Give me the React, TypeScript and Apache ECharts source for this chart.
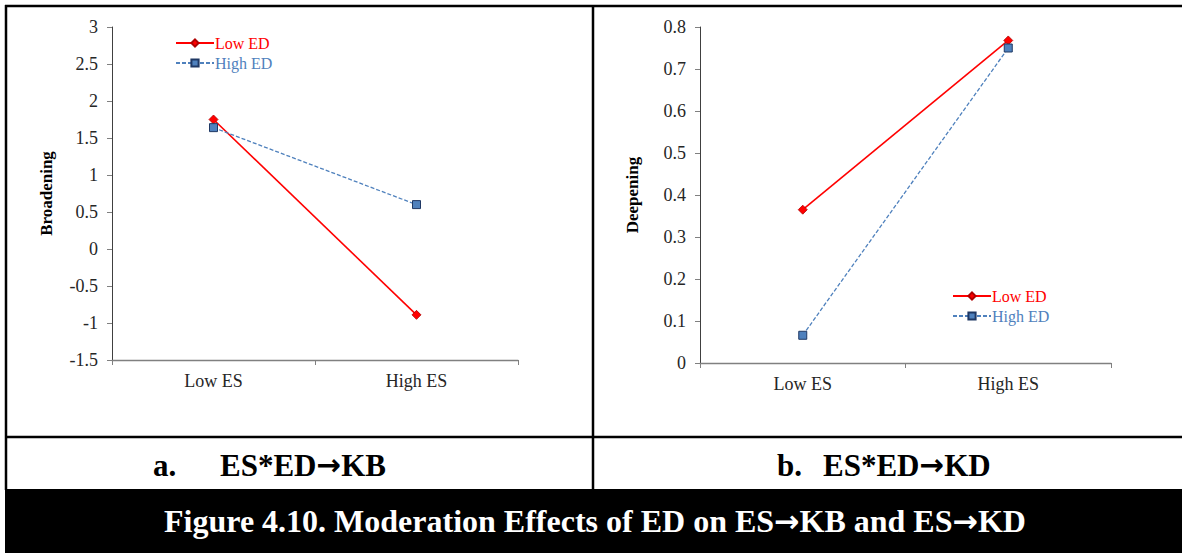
import React, { useEffect, useRef } from "react";
import * as echarts from "echarts";

const categories = ["Low ES", "High ES"];
const seriesNames = ["Low ED", "High ED"];
const broadeningLowED = [1.75, -0.89];
const broadeningHighED = [1.64, 0.6];
const deepeningLowED = [0.365, 0.768];
const deepeningHighED = [0.066, 0.75];
const captionA = ["a.", "ES*ED", "KB"];
const captionB = ["b.", "ES*ED", "KD"];
const figureTitleParts = ["Figure 4.10. Moderation Effects of ED on ES", "KB and ES", "KD"];
const ARROW = "\u2192";

const SERIF = "Liberation Serif";
const RED = "#FF0000";
const BLUE = "#4F81BD";

export default function App() {
  const ref = useRef<HTMLDivElement>(null);
  useEffect(() => {
    document.body.style.margin = "0";
    const chart = echarts.init(ref.current!, null, { renderer: "svg" });

    const yAxisCommon = (min: number, max: number, interval: number, name: string, nameGap: number) => ({
      type: "value",
      min,
      max,
      interval,
      name,
      nameLocation: "middle",
      nameGap,
      nameRotate: 90,
      nameTextStyle: { fontFamily: SERIF, fontWeight: "bold", fontSize: 17, color: "#000" },
      axisLine: { show: true, lineStyle: { color: "#404040", width: 1 } },
      axisTick: { show: true, length: 5, lineStyle: { color: "#808080" } },
      splitLine: { show: false },
      axisLabel: { fontFamily: SERIF, fontSize: 18, color: "#262626", margin: 14 },
    });
    const xAxisCommon = (gridIndex: number) => ({
      type: "category",
      gridIndex,
      data: categories,
      boundaryGap: true,
      axisLine: { show: true, onZero: false, lineStyle: { color: "#808080", width: 1.3 } },
      axisTick: { show: true, length: 5, inside: false, lineStyle: { color: "#808080" } },
      axisLabel: { fontFamily: SERIF, fontSize: 18, color: "#262626", margin: 12 },
    });

    const lowStyle = {
      type: "line",
      symbol: "diamond",
      symbolSize: 9,
      lineStyle: { color: RED, width: 1.6, type: "solid" },
      itemStyle: { color: RED, borderColor: "#B00000", borderWidth: 0.8 },
    };
    const highStyle = {
      type: "line",
      symbol: "rect",
      symbolSize: 8,
      lineStyle: { color: BLUE, width: 1.3, type: [4, 2] },
      itemStyle: { color: BLUE, borderColor: "#1F3864", borderWidth: 1 },
    };

    const legendCommon = (left: number, top: number) => ({
      orient: "vertical",
      left,
      top,
      itemWidth: 38,
      itemHeight: 9,
      itemGap: 0,
      data: [
        { name: seriesNames[0], textStyle: { color: RED } },
        { name: seriesNames[1], textStyle: { color: BLUE } },
      ],
      textStyle: { fontFamily: SERIF, fontSize: 16, lineHeight: 20, padding: [0, 0, 0, -4] },
      selectedMode: false,
    });

    const rich = (size: number, color: string) => ({
      t: { fontFamily: SERIF, fontWeight: "bold", fontSize: size, fill: color, color },
      a: { fontFamily: "DejaVu Sans", fontWeight: "bold", fontSize: size * 0.95, fill: color, color },
    });
    const capText = (x: number, y: number, text: string, size: number, color: string, align = "left") => ({
      type: "text",
      x,
      y,
      style: {
        text,
        rich: rich(size, color),
        fontFamily: SERIF,
        fontWeight: "bold",
        fontSize: size,
        fill: color,
        textAlign: align,
        textVerticalAlign: "middle",
      },
    });

    chart.setOption({
      animation: false,
      backgroundColor: "#fff",
      grid: [
        { left: 112, top: 27, width: 406, height: 333 },
        { left: 700, top: 27, width: 411, height: 336 },
      ],
      xAxis: [xAxisCommon(0), xAxisCommon(1)],
      yAxis: [
        { ...yAxisCommon(-1.5, 3, 0.5, "Broadening", 57), gridIndex: 0 },
        { ...yAxisCommon(0, 0.8, 0.1, "Deepening", 59), gridIndex: 1 },
      ],
      legend: [legendCommon(170, 28), legendCommon(947, 281)],
      series: [
        { ...lowStyle, name: seriesNames[0], xAxisIndex: 0, yAxisIndex: 0, data: broadeningLowED },
        { ...highStyle, name: seriesNames[1], xAxisIndex: 0, yAxisIndex: 0, data: broadeningHighED },
        { ...lowStyle, name: seriesNames[0], xAxisIndex: 1, yAxisIndex: 1, data: deepeningLowED },
        { ...highStyle, name: seriesNames[1], xAxisIndex: 1, yAxisIndex: 1, data: deepeningHighED },
      ],
      graphic: [
        { type: "line", shape: { x1: 5, y1: 6, x2: 1182, y2: 6 }, style: { stroke: "#000", lineWidth: 2.5 } },
        { type: "line", shape: { x1: 6, y1: 5, x2: 6, y2: 490 }, style: { stroke: "#000", lineWidth: 2.5 } },
        { type: "line", shape: { x1: 593, y1: 5, x2: 593, y2: 490 }, style: { stroke: "#000", lineWidth: 2.5 } },
        { type: "line", shape: { x1: 5, y1: 437, x2: 1182, y2: 437 }, style: { stroke: "#000", lineWidth: 2.5 } },
        { type: "rect", shape: { x: 5, y: 489, width: 1177, height: 64 }, style: { fill: "#000" } },
        capText(153, 465, `{t|${captionA[0]}}`, 31, "#000"),
        capText(220, 465, `{t|${captionA[1]}}{a|${ARROW}}{t|${captionA[2]}}`, 31, "#000"),
        capText(777, 465, `{t|${captionB[0]}}`, 31, "#000"),
        capText(823, 465, `{t|${captionB[1]}}{a|${ARROW}}{t|${captionB[2]}}`, 31, "#000"),
        capText(
          595,
          521,
          `{t|${figureTitleParts[0]}}{a|${ARROW}}{t|${figureTitleParts[1]}}{a|${ARROW}}{t|${figureTitleParts[2]}}`,
          32,
          "#fff",
          "center"
        ),
      ],
    });
    return () => chart.dispose();
  }, []);
  return <div ref={ref} style={{ width: 1182, height: 553 }} />;
}
